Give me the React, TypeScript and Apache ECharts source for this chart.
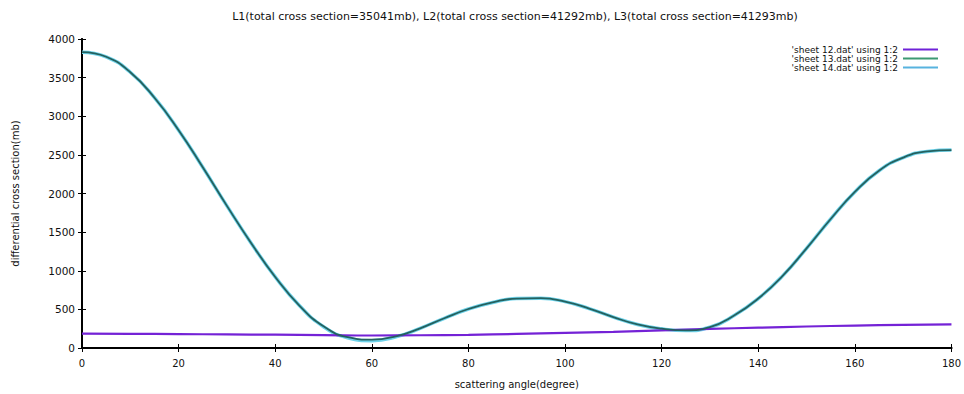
import React, { useEffect, useRef } from "react";
import * as echarts from "echarts";

const titleText =
  "L1(total cross section=35041mb), L2(total cross section=41292mb), L3(total cross section=41293mb)";
const seriesNames = ["'sheet 12.dat' using 1:2", "'sheet 13.dat' using 1:2", "'sheet 14.dat' using 1:2"];
const legendColors = ["#6f22d8", "#3c9a72", "#58b3df"];

const anglesPurple = [0, 10, 20, 30, 40, 50, 60, 70, 80, 90, 100, 110, 120, 130, 140, 150, 160, 170, 180];
const sheet12 = [185, 183, 180, 176, 172, 167, 162, 165, 171, 182, 195, 210, 228, 247, 263, 278, 290, 300, 305];

const anglesTeal = [
  0, 5, 10, 15, 20, 25, 30, 35, 40, 45, 50, 55, 60, 65, 70, 75, 80, 85, 90, 95, 100, 105, 110, 115, 120, 125,
  130, 135, 140, 145, 150, 155, 160, 165, 170, 175, 180,
];
const sheet13 = [
  3830, 3770, 3570, 3240, 2820, 2340, 1840, 1360, 920, 550, 280, 140, 108, 152, 255, 385, 505, 590, 640, 645, 600,
  510, 400, 305, 250, 228, 270, 420, 640, 930, 1290, 1670, 2020, 2295, 2465, 2545, 2562,
];
const sheet14 = [
  3830, 3770, 3570, 3240, 2820, 2340, 1840, 1360, 920, 550, 276, 132, 95, 145, 255, 385, 505, 590, 640, 645, 600,
  510, 400, 305, 248, 225, 268, 420, 640, 930, 1290, 1670, 2020, 2295, 2465, 2545, 2562,
];

const xTicks = { min: 0, max: 180, interval: 20 };
const yTicks = { min: 0, max: 4000, interval: 500 };

const FONT = "DejaVu Sans";

export default function App() {
  const ref = useRef<HTMLDivElement>(null);
  useEffect(() => {
    const chart = echarts.init(ref.current!, null, { renderer: "svg" });
    const axisLine = { show: true, lineStyle: { color: "#000", width: 2 } };
    const tick = { show: true, inside: true, length: 4, lineStyle: { color: "#000", width: 1 } };
    const label = { color: "#111", fontSize: 10, fontFamily: FONT };
    const smoothing = { smooth: 0.5 };
    chart.setOption({
      animation: false,
      backgroundColor: "#fff",
      graphic: [
        {
          type: "text",
          x: 515,
          y: 16,
          style: {
            text: titleText,
            fill: "#111",
            font: `11px "${FONT}"`,
            textAlign: "center",
            textVerticalAlign: "middle",
          },
        },
      ],
      legend: {
        orient: "vertical",
        right: 26,
        top: 45,
        padding: 0,
        align: "right",
        icon: "rect",
        itemWidth: 35,
        itemHeight: 2,
        itemGap: 0,
        textStyle: { fontSize: 9, color: "#111", fontFamily: FONT, lineHeight: 8.5, padding: [0, 0, 0, 0] },
        data: seriesNames.map((n, i) => ({ name: n, itemStyle: { color: legendColors[i] } })),
      },
      grid: { left: 82, right: 12, top: 39, bottom: 45, containLabel: false },
      xAxis: [
        {
          type: "value",
          ...xTicks,
          name: "scattering angle(degree)",
          nameLocation: "middle",
          nameGap: 31,
          nameTextStyle: { ...label },
          axisLine,
          axisTick: tick,
          axisLabel: { ...label, margin: 10 },
          splitLine: { show: false },
        },
        {
          type: "value",
          position: "top",
          ...xTicks,
          axisLine,
          axisTick: tick,
          axisLabel: { show: false },
          splitLine: { show: false },
        },
      ],
      yAxis: [
        {
          type: "value",
          ...yTicks,
          name: "differential cross section(mb)",
          nameLocation: "middle",
          nameGap: 62,
          nameTextStyle: { ...label },
          axisLine,
          axisTick: tick,
          axisLabel: { ...label, fontSize: 10.5, margin: 7, formatter: (v: number) => String(v) },
          splitLine: { show: false },
        },
        {
          type: "value",
          position: "right",
          ...yTicks,
          axisLine,
          axisTick: tick,
          axisLabel: { show: false },
          splitLine: { show: false },
        },
      ],
      series: [
        {
          name: seriesNames[0],
          type: "line",
          showSymbol: false,
          ...smoothing,
          data: anglesPurple.map((a, i) => [a, sheet12[i]]),
          lineStyle: { color: "#7422d6", width: 2.2 },
          itemStyle: { color: legendColors[0] },
          z: 3,
        },
        {
          name: seriesNames[2],
          type: "line",
          showSymbol: false,
          ...smoothing,
          data: anglesTeal.map((a, i) => [a, sheet14[i]]),
          lineStyle: { color: "#6fd3ea", width: 3.5 },
          itemStyle: { color: legendColors[2] },
          z: 2,
        },
        {
          name: seriesNames[1],
          type: "line",
          showSymbol: false,
          ...smoothing,
          data: anglesTeal.map((a, i) => [a, sheet13[i]]),
          lineStyle: { color: "#24615f", width: 1.8 },
          itemStyle: { color: legendColors[1] },
          z: 4,
        },
      ],
    });
    return () => chart.dispose();
  }, []);
  return <div ref={ref} style={{ width: 964, height: 394, position: "absolute", left: 0, top: 0 }} />;
}
